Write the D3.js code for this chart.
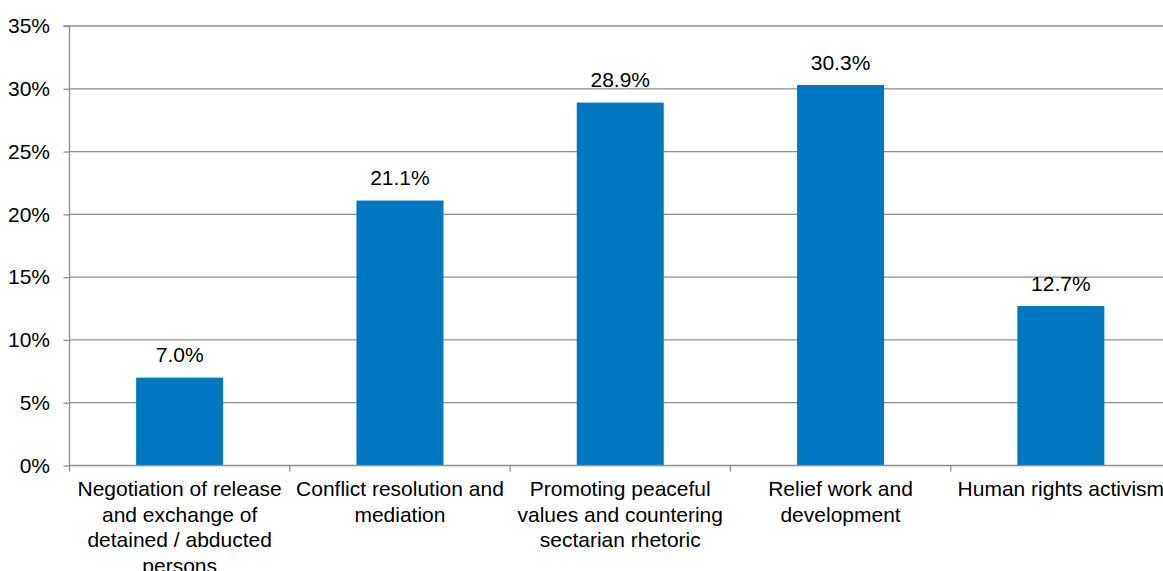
<!DOCTYPE html>
<html><head><meta charset="utf-8">
<script src="https://cdn.jsdelivr.net/npm/d3@7"></script>
<style>body{margin:0;background:#fff;overflow:hidden}svg{display:block}text{font-family:"Liberation Sans",Arial,sans-serif;fill:#000}</style>
</head><body>
<svg id="c" width="1163" height="571"></svg>
<script>
const categories = ["Negotiation of release and exchange of detained / abducted persons","Conflict resolution and mediation","Promoting peaceful values and countering sectarian rhetoric","Relief work and development","Human rights activism"];
const categoryLines = [["Negotiation of release","and exchange of","detained / abducted","persons"],["Conflict resolution and","mediation"],["Promoting peaceful","values and countering","sectarian rhetoric"],["Relief work and","development"],["Human rights activism"]];
const values = [7.0, 21.1, 28.9, 30.3, 12.7];
const yTicks = [0,5,10,15,20,25,30,35];

const svg = d3.select("#c");
const mLeft = 69.5, mRight = 1171, mTop = 26, mBottom = 465.5;
const FS = "21px";
const x = d3.scaleBand().domain(categories).range([mLeft, mRight]).padding(0);
const y = d3.scaleLinear().domain([0,35]).range([mBottom, mTop]);
const barW = x.bandwidth()*0.395;

// gridlines
svg.append("g").selectAll("line").data(yTicks.filter(t=>t>0)).join("line")
  .attr("x1", mLeft).attr("x2", 1163).attr("y1", d=>y(d)).attr("y2", d=>y(d))
  .attr("stroke","#8c8c8c").attr("stroke-width",1.3);

// bars
svg.append("g").selectAll("rect").data(values).join("rect")
  .attr("x",(d,i)=>x(categories[i])+(x.bandwidth()-barW)/2)
  .attr("width",barW)
  .attr("y",d=>y(d)).attr("height",d=>mBottom-y(d))
  .attr("fill","#0078c1");

// y axis
const ya = svg.append("g").attr("transform",`translate(${mLeft},0)`)
  .call(d3.axisLeft(y).tickValues(yTicks).tickSize(6).tickPadding(13.5).tickFormat(d=>d+"%"));
ya.select(".domain").attr("stroke","#8c8c8c").attr("stroke-width",1.3).attr("d",`M-6,${mTop}H0V${mBottom}`);
ya.selectAll(".tick line").attr("stroke","#8c8c8c").attr("stroke-width",1.3);
ya.selectAll(".tick text").style("font-size",FS).style("font-family","'Liberation Sans',Arial,sans-serif").attr("fill","#000");

// x axis
const xa = svg.append("g").attr("transform",`translate(0,${mBottom})`);
xa.append("line").attr("x1",mLeft).attr("x2",1163).attr("y1",0).attr("y2",0).attr("stroke","#8c8c8c").attr("stroke-width",1.3);
const bounds = categories.map(c=>x(c)).concat([mRight]);
xa.selectAll("line.t").data(bounds).join("line").attr("class","t")
  .attr("x1",d=>d).attr("x2",d=>d).attr("y1",0).attr("y2",6)
  .attr("stroke","#8c8c8c").attr("stroke-width",1.3);

// category labels
categoryLines.forEach((lines,i)=>{
  const cx = x(categories[i])+x.bandwidth()/2;
  const t = svg.append("text").attr("text-anchor","middle").style("font-size",FS);
  lines.forEach((l,j)=>t.append("tspan").attr("x",cx).attr("y",mBottom+30.5+j*25.5).text(l));
});

// value labels
svg.append("g").selectAll("text").data(values).join("text")
  .attr("x",(d,i)=>x(categories[i])+x.bandwidth()/2)
  .attr("y",d=>y(d)-15.5)
  .attr("text-anchor","middle").style("font-size",FS)
  .text(d=>d.toFixed(1)+"%");
</script>
</body></html>
